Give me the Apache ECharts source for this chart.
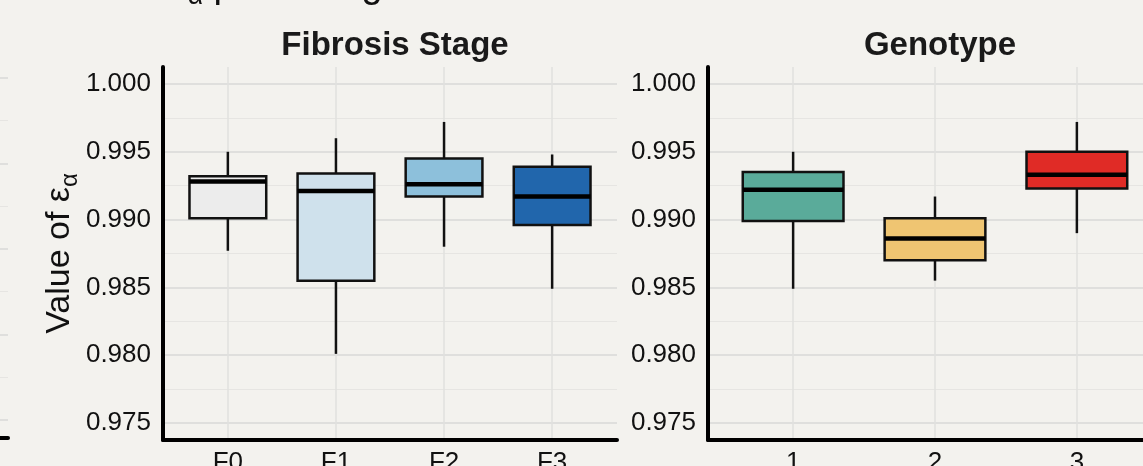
<!DOCTYPE html>
<html><head><meta charset="utf-8">
<script src="https://cdn.jsdelivr.net/npm/echarts@6/dist/echarts.min.js"></script>
<style>html,body{margin:0;padding:0;background:#f3f2ee;}#c{width:1143px;height:466px;}</style>
</head><body><div id="c"></div>
<script>
// ---- data ----
const fibrosisCategories = ['F0', 'F1', 'F2', 'F3'];
const fibrosisWhiskerLow  = [0.9877, 0.9801, 0.9880, 0.9849];
const fibrosisQ1          = [0.9901, 0.9855, 0.9917, 0.9896];
const fibrosisMedian      = [0.9928, 0.9921, 0.9926, 0.9917];
const fibrosisQ3          = [0.9932, 0.9934, 0.9945, 0.9939];
const fibrosisWhiskerHigh = [0.9950, 0.9960, 0.9972, 0.9948];

const genotypeCategories  = ['1', '2', '3'];
const genotypeWhiskerLow  = [0.9849, 0.9855, 0.9890];
const genotypeQ1          = [0.9899, 0.9870, 0.9923];
const genotypeMedian      = [0.9922, 0.9886, 0.9933];
const genotypeQ3          = [0.9935, 0.9901, 0.9950];
const genotypeWhiskerHigh = [0.9950, 0.9917, 0.9972];

const panelTitles = ['Fibrosis Stage', 'Genotype'];

// ---- styles ----
const fibrosisColors = ['#ececec', '#cfe1ec', '#8dc0db', '#2166ac'];
const genotypeColors = ['#5aab9a', '#efc572', '#e02b26'];
const FONT = 'Liberation Sans, Arial, sans-serif';
const BG = '#f3f2ee';

function buildBoxData(cats, lo, q1, med, q3, hi, colors) {
  return cats.map((c, i) => ({
    value: [i, lo[i], q1[i], med[i], q3[i], hi[i]],
    itemStyle: { color: colors[i] }
  }));
}

function renderBox(params, api) {
  const x = api.value(0);
  const lo = api.coord([x, api.value(1)]);
  const q1 = api.coord([x, api.value(2)]);
  const md = api.coord([x, api.value(3)]);
  const q3 = api.coord([x, api.value(4)]);
  const hi = api.coord([x, api.value(5)]);
  const w = api.size([1, 0])[0] * 0.71;
  const fill = api.visual('color');
  return {
    type: 'group',
    children: [
      { type: 'line', shape: { x1: lo[0], y1: lo[1], x2: q1[0], y2: q1[1] }, style: { stroke: '#111', lineWidth: 2.5 } },
      { type: 'line', shape: { x1: q3[0], y1: q3[1], x2: hi[0], y2: hi[1] }, style: { stroke: '#111', lineWidth: 2.5 } },
      { type: 'rect', shape: { x: q1[0] - w / 2, y: q3[1], width: w, height: q1[1] - q3[1] }, style: { fill: fill, stroke: '#111', lineWidth: 2.5 } },
      { type: 'line', shape: { x1: md[0] - w / 2, y1: md[1], x2: md[0] + w / 2, y2: md[1] }, style: { stroke: '#000', lineWidth: 4.5 } }
    ]
  };
}

function xAxisFor(gridIndex, cats) {
  return {
    type: 'value', gridIndex: gridIndex,
    min: -0.6, max: cats.length - 0.4, minInterval: 1, maxInterval: 1,
    axisLine: { show: true, onZero: false, lineStyle: { color: '#000', width: 4 } },
    axisTick: { show: false },
    axisLabel: {
      show: true, margin: 10, color: '#111', fontFamily: FONT, fontSize: 26,
      showMinLabel: false, showMaxLabel: false,
      formatter: v => (Number.isInteger(Math.round(v * 1000) / 1000) && cats[Math.round(v)] !== undefined) ? cats[Math.round(v)] : ''
    },
    splitLine: { show: true, showMinLine: false, showMaxLine: false, lineStyle: { color: '#e0e0de', width: 1.5 } },
    minorTick: { show: false },
    minorSplitLine: { show: false }
  };
}

function yAxisFor(gridIndex, withName) {
  const ax = {
    type: 'value', gridIndex: gridIndex,
    min: 0.97375, max: 1.00125, minInterval: 0.005, maxInterval: 0.005,
    axisLine: { show: true, onZero: false, lineStyle: { color: '#000', width: 4 } },
    axisTick: { show: false },
    axisLabel: {
      show: true, margin: 12, color: '#111', fontFamily: FONT, fontSize: 26,
      showMinLabel: false, showMaxLabel: false,
      formatter: v => v.toFixed(3)
    },
    splitLine: { show: true, showMinLine: false, showMaxLine: false, lineStyle: { color: '#d9d9d7', width: 1.5 } },
    minorTick: { show: false, splitNumber: 2 },
    minorSplitLine: { show: true, lineStyle: { color: '#e6e5e2', width: 1 } }
  };
  if (withName) {
    ax.name = '{n|Value of ε}{s|α}';
    ax.nameLocation = 'middle';
    ax.nameRotate = 90;
    ax.nameGap = 79;
    ax.nameTextStyle = {
      rich: {
        n: { fontFamily: FONT, fontSize: 34, color: '#111' },
        s: { fontFamily: FONT, fontSize: 24, color: '#111', padding: [20, 0, 0, 0] }
      }
    };
  }
  return ax;
}

const chart = echarts.init(document.getElementById('c'), null, { renderer: 'canvas' });
chart.setOption({
  backgroundColor: BG,
  animation: false,
  textStyle: { fontFamily: FONT },
  title: [
    {
      text: '{n|Estimated ε}{s|α}{n| percentage}',
      left: -14, top: -42,
      textStyle: {
        fontWeight: 'normal',
        rich: {
          n: { fontFamily: FONT, fontSize: 38, fontWeight: 'normal', color: '#111' },
          s: { fontFamily: FONT, fontSize: 27, fontWeight: 'normal', color: '#111', padding: [20, 0, 0, 0] }
        }
      }
    },
    { text: panelTitles[0], left: 390, top: 24, textAlign: 'center', textStyle: { fontFamily: FONT, fontSize: 33, fontWeight: 'bold', color: '#1a1a1a' } },
    { text: panelTitles[1], left: 935, top: 24, textAlign: 'center', textStyle: { fontFamily: FONT, fontSize: 33, fontWeight: 'bold', color: '#1a1a1a' } }
  ],
  grid: [
    { left: 163, top: 67, width: 454, height: 373, outerBoundsMode: 'none', containLabel: false },
    { left: 708, top: 67, width: 454, height: 373, outerBoundsMode: 'none', containLabel: false },
    { left: -100, top: 66, width: 108, height: 354, outerBoundsMode: 'none', containLabel: false }
  ],
  xAxis: [
    xAxisFor(0, fibrosisCategories),
    xAxisFor(1, genotypeCategories),
    {
      type: 'value', gridIndex: 2, min: 0, max: 1, offset: 17.5,
      axisLine: { show: true, onZero: false, lineStyle: { color: '#000', width: 4 } },
      axisTick: { show: false }, axisLabel: { show: false }, splitLine: { show: false }
    }
  ],
  yAxis: [
    yAxisFor(0, true),
    yAxisFor(1, false),
    {
      type: 'value', gridIndex: 2, min: 0, max: 8.28, minInterval: 2, maxInterval: 2,
      axisLine: { show: false }, axisTick: { show: false }, axisLabel: { show: false },
      splitLine: { show: true, showMaxLine: false, lineStyle: { color: '#d9d9d7', width: 1.5 } },
      minorTick: { show: false, splitNumber: 2 },
      minorSplitLine: { show: true, lineStyle: { color: '#e6e5e2', width: 1 } }
    }
  ],
  series: [
    {
      type: 'custom', xAxisIndex: 0, yAxisIndex: 0, renderItem: renderBox,
      encode: { x: 0, y: [1, 2, 3, 4, 5] },
      data: buildBoxData(fibrosisCategories, fibrosisWhiskerLow, fibrosisQ1, fibrosisMedian, fibrosisQ3, fibrosisWhiskerHigh, fibrosisColors)
    },
    {
      type: 'custom', xAxisIndex: 1, yAxisIndex: 1, renderItem: renderBox,
      encode: { x: 0, y: [1, 2, 3, 4, 5] },
      data: buildBoxData(genotypeCategories, genotypeWhiskerLow, genotypeQ1, genotypeMedian, genotypeQ3, genotypeWhiskerHigh, genotypeColors)
    }
  ]
});
</script></body></html>
